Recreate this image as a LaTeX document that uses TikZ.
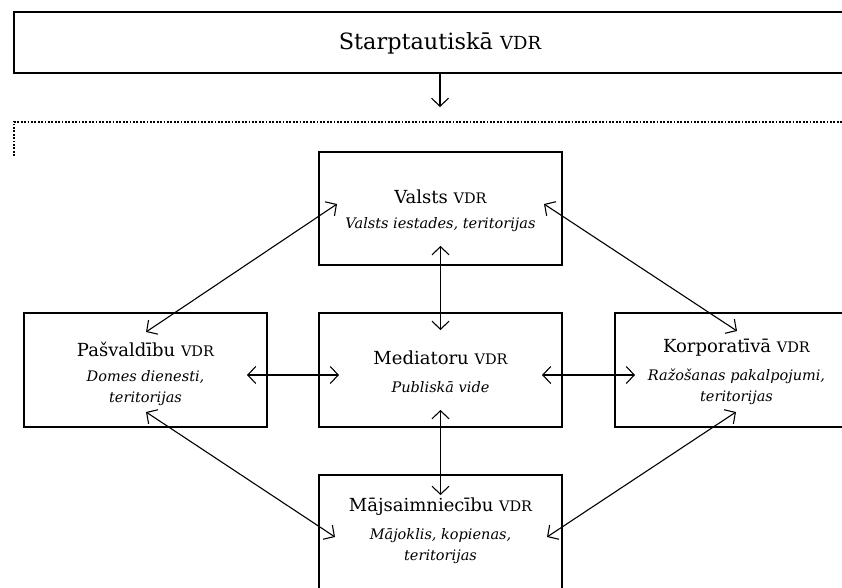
\documentclass[tikz,border=0pt]{standalone}
\usepackage{fontspec}
\setmainfont{DejaVu Serif}
\usetikzlibrary{arrows.meta,calc}
\newcommand{\vdrsc}[1]{{\fontsize{#1}{#1}\selectfont VDR}}
\begin{document}
\begin{tikzpicture}[x=1pt,y=-1pt,
  box/.style={draw,line width=1.3pt,inner sep=0pt,minimum width=243pt,minimum height=114pt},
  ttl/.style={font=\fontsize{18}{21}\selectfont,inner sep=0pt},
  sub/.style={font=\fontsize{14.5}{21}\selectfont\itshape,align=center,inner sep=0pt},
  conn/.style={line width=1.1pt,{Straight Barb[length=8pt,width=17pt]}-{Straight Barb[length=8pt,width=17pt]}},
  oneway/.style={line width=1.1pt,-{Straight Barb[length=8pt,width=17pt]}},
  dotline/.style={line width=2.2pt,dash pattern=on 1.8pt off 1.6pt}]
\clip (0,0) rectangle (842,588);
\fill[white] (0,0) rectangle (842,588);
% top box
\node[draw,line width=1.3pt,minimum width=852pt,minimum height=61pt,inner sep=0pt] (top) at (440,42.5) {};
\node[font=\fontsize{22.4}{24}\selectfont,inner sep=0pt] (toptxt) at (440,43) {Starptautiskā \vdrsc{18}};
\coordinate (topT) at (440,107);
\draw[oneway] (top.south) -- (topT);
% dotted frame
\draw[dotline] (14,156) -- (14,122) -- (850,122);
% boxes
\node[box,minimum height=113pt] (val) at (440.5,208.5) {};
\node[box] (pas) at (145.5,370) {};
\node[box] (med) at (440.5,370) {};
\node[box] (kor) at (736.5,370) {};
\node[box] (maj) at (440.5,532) {};
% texts
\node[ttl] (valT) at (440.5,197) {Valsts \vdrsc{14.5}};
\node[sub] (valS) at (440.5,225) {Valsts iestades, teritorijas};
\node[ttl] (pasT) at (145.5,349) {Pašvaldību \vdrsc{14.5}};
\node[sub] (pasS) at (145.5,388) {Domes dienesti,\\teritorijas};
\node[ttl] (medT) at (440.5,358) {Mediatoru \vdrsc{14.5}};
\node[sub] (medS) at (440.5,387) {Publiskā vide};
\node[ttl] (korT) at (736.5,348) {Korporatīvā \vdrsc{14.5}};
\node[sub] (korS) at (736.5,387) {Ražošanas pakalpojumi,\\teritorijas};
\node[ttl] (majT) at (440.5,507) {Mājsaimniecību \vdrsc{14.5}};
\node[sub] (majS) at (440.5,546) {Mājoklis, kopienas,\\teritorijas};
% connector end points
\coordinate (vU) at (440.5,246);
\coordinate (mU) at (440.5,330);
\coordinate (vL) at (337,204);
\coordinate (pU) at (146,332);
\coordinate (vR) at (544,204);
\coordinate (kU) at (737,331);
\coordinate (pR) at (247,375);
\coordinate (mL) at (339,375);
\coordinate (mR) at (542,375);
\coordinate (kL) at (635,375);
\coordinate (mD) at (440.5,410);
\coordinate (jU) at (440.5,495);
\coordinate (pD) at (146,412);
\coordinate (jL) at (335,537);
\coordinate (kD) at (736,412);
\coordinate (jR) at (547,537);
% connectors
\draw[conn] (vU) -- (mU);
\draw[conn] (vL) -- (pU);
\draw[conn] (vR) -- (kU);
\draw[conn] (pR) -- (mL);
\draw[conn] (mR) -- (kL);
\draw[conn] (mD) -- (jU);
\draw[conn] (pD) -- (jL);
\draw[conn] (kD) -- (jR);
\end{tikzpicture}
\end{document}
